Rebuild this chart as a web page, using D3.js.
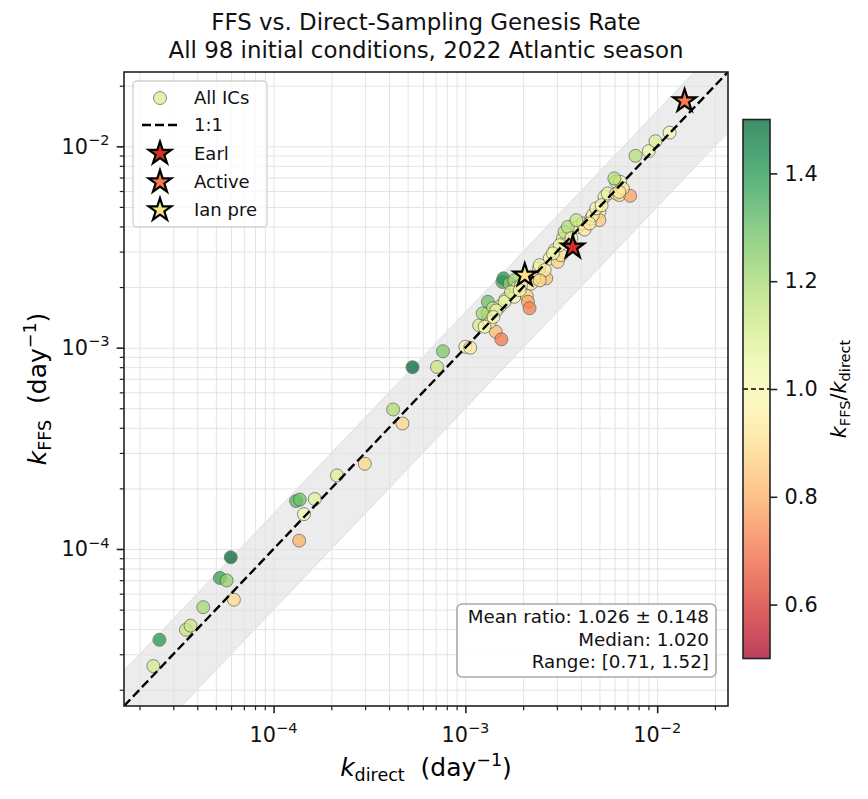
<!DOCTYPE html>
<html>
<head>
<meta charset="utf-8">
<script src="https://cdnjs.cloudflare.com/ajax/libs/d3/7.8.5/d3.min.js"></script>
<style>
  body { margin: 0; background: #fff; }
  svg { font-family: "DejaVu Sans", sans-serif; }
</style>
</head>
<body>
<div id="chart"></div>
<script>
// direct-sampling genesis rate per initial condition (day^-1)
const kDirect = [2.36e-5, 2.54e-5, 3.49e-5, 3.69e-5, 4.30e-5, 5.25e-5, 5.69e-5, 5.98e-5, 6.21e-5,
  1.31e-4, 1.37e-4, 1.64e-4, 1.44e-4, 1.36e-4, 2.14e-4, 2.99e-4, 4.20e-4, 4.70e-4, 5.30e-4,
  7.11e-4, 7.64e-4, 1.00e-3, 1.06e-3, 1.18e-3, 1.31e-3, 1.31e-3, 1.44e-3, 1.54e-3, 1.31e-3,
  1.51e-3, 1.39e-3, 1.62e-3, 1.56e-3, 1.58e-3, 1.70e-3, 1.80e-3, 1.80e-3, 2.09e-3, 2.12e-3,
  2.16e-3, 2.30e-3, 2.42e-3, 2.64e-3, 2.75e-3, 2.92e-3, 3.03e-3, 3.16e-3, 3.22e-3, 3.29e-3,
  3.85e-3, 4.09e-3, 4.18e-3, 4.53e-3, 5.00e-3, 5.00e-3, 5.31e-3, 5.52e-3, 6.11e-3, 6.35e-3,
  7.23e-3, 6.11e-3, 6.41e-3, 7.71e-3, 9.04e-3, 9.80e-3, 1.16e-2,
  4.61e-3, 3.10e-3, 2.44e-3, 1.80e-3, 1.84e-3, 1.60e-3, 1.34e-3, 1.23e-3, 2.20e-3, 2.86e-3,
  4.44e-3, 4.81e-3, 6.62e-3, 5.98e-3, 3.42e-3, 3.79e-3, 2.59e-3, 1.95e-3, 1.45e-3, 1.26e-3, 1.73e-3,
  5.13e-3, 6.35e-3, 3.57e-3, 1.92e-3, 2.44e-3, 1.40e-3];

// FFS genesis rate, same order
const kFFS = [2.62e-5, 3.54e-5, 3.97e-5, 4.16e-5, 5.14e-5, 7.18e-5, 6.98e-5, 9.10e-5, 5.60e-5,
  1.73e-4, 1.76e-4, 1.77e-4, 1.49e-4, 1.10e-4, 2.32e-4, 2.65e-4, 4.93e-4, 4.20e-4, 8.00e-4,
  8.02e-4, 9.60e-4, 1.01e-3, 1.00e-3, 1.29e-3, 1.36e-3, 1.48e-3, 1.20e-3, 1.10e-3, 1.69e-3,
  1.60e-3, 1.57e-3, 1.74e-3, 2.12e-3, 2.21e-3, 2.08e-3, 2.00e-3, 1.79e-3, 1.81e-3, 1.69e-3,
  1.57e-3, 2.21e-3, 2.47e-3, 2.21e-3, 2.77e-3, 3.05e-3, 2.67e-3, 2.88e-3, 3.48e-3, 3.76e-3,
  3.98e-3, 4.14e-3, 3.86e-3, 4.38e-3, 4.73e-3, 4.30e-3, 5.61e-3, 5.83e-3, 5.83e-3, 5.73e-3,
  5.68e-3, 6.67e-3, 6.67e-3, 8.97e-3, 9.47e-3, 1.06e-2, 1.17e-2,
  4.55e-3, 3.23e-3, 2.57e-3, 2.16e-3, 1.97e-3, 1.69e-3, 1.34e-3, 1.48e-3, 2.08e-3, 2.94e-3,
  4.14e-3, 4.92e-3, 6.18e-3, 6.93e-3, 3.98e-3, 4.30e-3, 2.43e-3, 2.04e-3, 1.53e-3, 1.27e-3, 1.89e-3,
  5.10e-3, 5.94e-3, 3.50e-3, 1.93e-3, 2.16e-3, 1.42e-3];

// highlighted cases
const starNames = ["Earl", "Active", "Ian pre"];
const starDirect = [3.63e-3, 1.39e-2, 2.04e-3];
const starFFS = [3.15e-3, 1.68e-2, 2.29e-3];

const axisLimits = [1.66e-5, 2.34e-2];
const majorTicks = [1e-4, 1e-3, 1e-2];
const cbarTicks = [0.6, 0.8, 1.0, 1.2, 1.4];
const cbarDomain = [0.5, 1.5];
const statsLines = ["Mean ratio: 1.026 \u00b1 0.148", "Median: 1.020", "Range: [0.71, 1.52]"];
const titleLines = ["FFS vs. Direct-Sampling Genesis Rate", "All 98 initial conditions, 2022 Atlantic season"];

const starColor = {"Earl": "#d73027", "Active": "#f67a4c", "Ian pre": "#fee08b"};

// minor ticks 2..9 x 10^k inside the limits
const minorTicks = [];
for (let e = -5; e <= -2; e++) {
  for (let m = 2; m <= 9; m++) {
    const v = m * Math.pow(10, e);
    if (v > axisLimits[0] && v < axisLimits[1]) minorTicks.push(v);
  }
}

const width = 868, height = 799;
const plot = {left: 124, right: 728, top: 72, bottom: 706};
const fs = 20.8; // 10pt @150dpi

const svg = d3.select("#chart").append("svg")
  .attr("width", width).attr("height", height);

const x = d3.scaleLog().domain(axisLimits).range([plot.left, plot.right]);
const y = d3.scaleLog().domain(axisLimits).range([plot.bottom, plot.top]);

const cbarScale = d3.scaleLinear().domain(cbarDomain).range([658.5, 119.5]);
const colorOf = r => d3.interpolateRdYlGn((r - cbarDomain[0]) / (cbarDomain[1] - cbarDomain[0]));

const defs = svg.append("defs");
defs.append("clipPath").attr("id", "plotClip")
  .append("rect")
  .attr("x", plot.left).attr("y", plot.top)
  .attr("width", plot.right - plot.left).attr("height", plot.bottom - plot.top);

// writes a text made of mathtext-like parts (italic, sub/superscripts)
function richText(sel, parts, size) {
  let prev = 0;
  parts.forEach(p => {
    const shift = p.shift || 0;
    sel.append("tspan")
      .attr("dy", shift - prev)
      .attr("font-size", size * (p.scale || 1))
      .attr("font-style", p.italic ? "italic" : "normal")
      .text(p.t);
    prev = shift;
  });
  return sel;
}

const powerParts = v => {
  const e = Math.round(Math.log10(v));
  return [{t: "10"}, {t: "\u2212" + Math.abs(e), scale: 0.7, shift: -0.42 * fs}];
};

const g = svg.append("g");

// +-50% band
const bandPts = [
  [axisLimits[0], axisLimits[0] * 1.5], [axisLimits[1], axisLimits[1] * 1.5],
  [axisLimits[1], axisLimits[1] * 0.5], [axisLimits[0], axisLimits[0] * 0.5]
];
g.append("path")
  .attr("clip-path", "url(#plotClip)")
  .attr("d", d3.line().x(d => x(d[0])).y(d => y(d[1]))(bandPts) + "Z")
  .attr("fill", "#808080").attr("fill-opacity", 0.15)
  .attr("stroke", "#808080").attr("stroke-opacity", 0.12).attr("stroke-width", 1.2);

// grid, major and minor
const gridVals = majorTicks.concat(minorTicks);
g.append("g").attr("class", "gridX")
  .attr("transform", `translate(0,${plot.bottom})`)
  .call(d3.axisBottom(x).tickValues(gridVals).tickSize(-(plot.bottom - plot.top)).tickFormat(""))
  .call(s => s.select(".domain").remove())
  .call(s => s.selectAll("line").attr("stroke", "#e3e3e3").attr("stroke-width", 1));
g.append("g").attr("class", "gridY")
  .attr("transform", `translate(${plot.left},0)`)
  .call(d3.axisLeft(y).tickValues(gridVals).tickSize(-(plot.right - plot.left)).tickFormat(""))
  .call(s => s.select(".domain").remove())
  .call(s => s.selectAll("line").attr("stroke", "#e3e3e3").attr("stroke-width", 1));

// scatter of all ICs
const points = kDirect.map((kd, i) => ({kd: kd, kf: kFFS[i], ratio: kFFS[i] / kd}));
g.append("g").attr("clip-path", "url(#plotClip)")
  .selectAll(".dot")
  .data(points)
  .join("circle")
  .attr("class", "dot")
  .attr("cx", d => x(d.kd))
  .attr("cy", d => y(d.kf))
  .attr("r", 6.5)
  .attr("fill", d => colorOf(d.ratio))
  .attr("stroke", "#555")
  .attr("stroke-width", 0.9)
  .attr("opacity", 0.75);

// 1:1 line
g.append("line")
  .attr("clip-path", "url(#plotClip)")
  .attr("x1", x(axisLimits[0])).attr("y1", y(axisLimits[0]))
  .attr("x2", x(axisLimits[1])).attr("y2", y(axisLimits[1]))
  .attr("stroke", "#000").attr("stroke-width", 2.4).attr("stroke-dasharray", "9,4");

// highlighted stars
const star = d3.symbol().type(d3.symbolStar).size(160);
g.append("g").selectAll(".star")
  .data(starNames.map((n, i) => ({name: n, kd: starDirect[i], kf: starFFS[i]})))
  .join("path")
  .attr("class", "star")
  .attr("d", star)
  .attr("transform", d => `translate(${x(d.kd)},${y(d.kf)})`)
  .attr("fill", d => starColor[d.name])
  .attr("stroke", "#000").attr("stroke-width", 2.2).attr("stroke-linejoin", "miter");

// axes frame
g.append("rect")
  .attr("x", plot.left).attr("y", plot.top)
  .attr("width", plot.right - plot.left).attr("height", plot.bottom - plot.top)
  .attr("fill", "none").attr("stroke", "#222").attr("stroke-width", 1.6);

// ticks
const styleTicks = (s, w) => {
  s.select(".domain").remove();
  s.selectAll("line").attr("stroke", "#222").attr("stroke-width", w);
};
g.append("g").attr("transform", `translate(0,${plot.bottom})`)
  .call(d3.axisBottom(x).tickValues(majorTicks).tickSize(7.3).tickFormat(""))
  .call(s => styleTicks(s, 1.6));
g.append("g").attr("transform", `translate(0,${plot.bottom})`)
  .call(d3.axisBottom(x).tickValues(minorTicks).tickSize(4.2).tickFormat(""))
  .call(s => styleTicks(s, 1.2));
g.append("g").attr("transform", `translate(${plot.left},0)`)
  .call(d3.axisLeft(y).tickValues(majorTicks).tickSize(7.3).tickFormat(""))
  .call(s => styleTicks(s, 1.6));
g.append("g").attr("transform", `translate(${plot.left},0)`)
  .call(d3.axisLeft(y).tickValues(minorTicks).tickSize(4.2).tickFormat(""))
  .call(s => styleTicks(s, 1.2));

// tick labels
majorTicks.forEach(v => {
  richText(g.append("text")
    .attr("x", x(v)).attr("y", 742)
    .attr("text-anchor", "middle").attr("fill", "#111"), powerParts(v), fs);
  richText(g.append("text")
    .attr("x", plot.left - 14.6).attr("y", y(v) + 7.4)
    .attr("text-anchor", "end").attr("fill", "#111"), powerParts(v), fs);
});

// axis labels
richText(svg.append("text")
  .attr("x", (plot.left + plot.right) / 2).attr("y", 776)
  .attr("text-anchor", "middle").style("white-space", "pre"),
  [{t: "k", italic: true}, {t: "direct", scale: 0.7, shift: 5}, {t: "  (day"},
   {t: "\u22121", scale: 0.7, shift: -10.5}, {t: ")"}], 25);

richText(svg.append("text")
  .attr("transform", `translate(46,${(plot.top + plot.bottom) / 2}) rotate(-90)`)
  .attr("text-anchor", "middle").style("white-space", "pre"),
  [{t: "k", italic: true}, {t: "FFS", scale: 0.7, shift: 5}, {t: "  (day"},
   {t: "\u22121", scale: 0.7, shift: -10.5}, {t: ")"}], 25);

// title
titleLines.forEach((t, i) => {
  svg.append("text")
    .attr("x", (plot.left + plot.right) / 2).attr("y", 30 + i * 28)
    .attr("text-anchor", "middle")
    .attr("font-size", 22.9).attr("fill", "#111")
    .text(t);
});

// legend
const leg = svg.append("g");
leg.append("rect")
  .attr("x", 133).attr("y", 81).attr("width", 134).attr("height", 146)
  .attr("rx", 4).attr("fill", "#fff").attr("fill-opacity", 0.8)
  .attr("stroke", "#d0d0d0").attr("stroke-width", 1.3);
const legRows = [98, 125, 153.5, 182, 210];
leg.append("circle")
  .attr("cx", 160).attr("cy", legRows[0]).attr("r", 6.5)
  .attr("fill", colorOf(1.1)).attr("stroke", "#555").attr("stroke-width", 0.9).attr("opacity", 0.75);
leg.append("line")
  .attr("x1", 142).attr("x2", 178).attr("y1", legRows[1]).attr("y2", legRows[1])
  .attr("stroke", "#000").attr("stroke-width", 2.4).attr("stroke-dasharray", "9,4");
starNames.forEach((n, i) => {
  leg.append("path")
    .attr("d", star)
    .attr("transform", `translate(160,${legRows[i + 2]})`)
    .attr("fill", starColor[n]).attr("stroke", "#000").attr("stroke-width", 2.2);
});
["All ICs", "1:1"].concat(starNames).forEach((t, i) => {
  leg.append("text")
    .attr("x", 194).attr("y", legRows[i] + 6.3)
    .attr("font-size", 18).attr("fill", "#111")
    .text(t);
});

// stats box
svg.append("rect")
  .attr("x", 457).attr("y", 604).attr("width", 259).attr("height", 73)
  .attr("rx", 5).attr("fill", "#fff").attr("fill-opacity", 0.85)
  .attr("stroke", "#aaa").attr("stroke-width", 1.6);
statsLines.forEach((t, i) => {
  svg.append("text")
    .attr("x", 709).attr("y", 623 + i * 22.5)
    .attr("text-anchor", "end").attr("font-size", 18.3).attr("fill", "#111")
    .text(t);
});

// colorbar
const cbX = 743, cbW = 27;
const grad = defs.append("linearGradient").attr("id", "cbarGrad")
  .attr("x1", 0).attr("y1", 1).attr("x2", 0).attr("y2", 0);
d3.range(0, 1.0001, 0.02).forEach(t => {
  grad.append("stop").attr("offset", t).attr("stop-color", d3.interpolateRdYlGn(t));
});
svg.append("rect")
  .attr("x", cbX).attr("y", cbarScale(cbarDomain[1]))
  .attr("width", cbW).attr("height", cbarScale(cbarDomain[0]) - cbarScale(cbarDomain[1]))
  .attr("fill", "url(#cbarGrad)").attr("fill-opacity", 0.75);
svg.append("line")
  .attr("x1", cbX).attr("x2", cbX + cbW)
  .attr("y1", cbarScale(1.0)).attr("y2", cbarScale(1.0))
  .attr("stroke", "#000").attr("stroke-width", 1.5).attr("stroke-dasharray", "5,3");
svg.append("rect")
  .attr("x", cbX).attr("y", cbarScale(cbarDomain[1]))
  .attr("width", cbW).attr("height", cbarScale(cbarDomain[0]) - cbarScale(cbarDomain[1]))
  .attr("fill", "none").attr("stroke", "#222").attr("stroke-width", 1.6);
svg.append("g")
  .attr("transform", `translate(${cbX + cbW},0)`)
  .call(d3.axisRight(cbarScale).tickValues(cbarTicks).tickSize(7.3).tickPadding(7.3).tickFormat(d3.format(".1f")))
  .call(s => s.select(".domain").remove())
  .call(s => s.selectAll("line").attr("stroke", "#222").attr("stroke-width", 1.6))
  .call(s => s.selectAll("text").attr("font-size", fs).attr("fill", "#111")
    .attr("font-family", "DejaVu Sans, sans-serif"));

richText(svg.append("text")
  .attr("transform", `translate(846,${cbarScale(1.0)}) rotate(-90)`)
  .attr("text-anchor", "middle"),
  [{t: "k", italic: true}, {t: "FFS", scale: 0.7, shift: 4}, {t: "/", shift: 0},
   {t: "k", italic: true}, {t: "direct", scale: 0.7, shift: 4}], fs);
</script>
</body>
</html>
